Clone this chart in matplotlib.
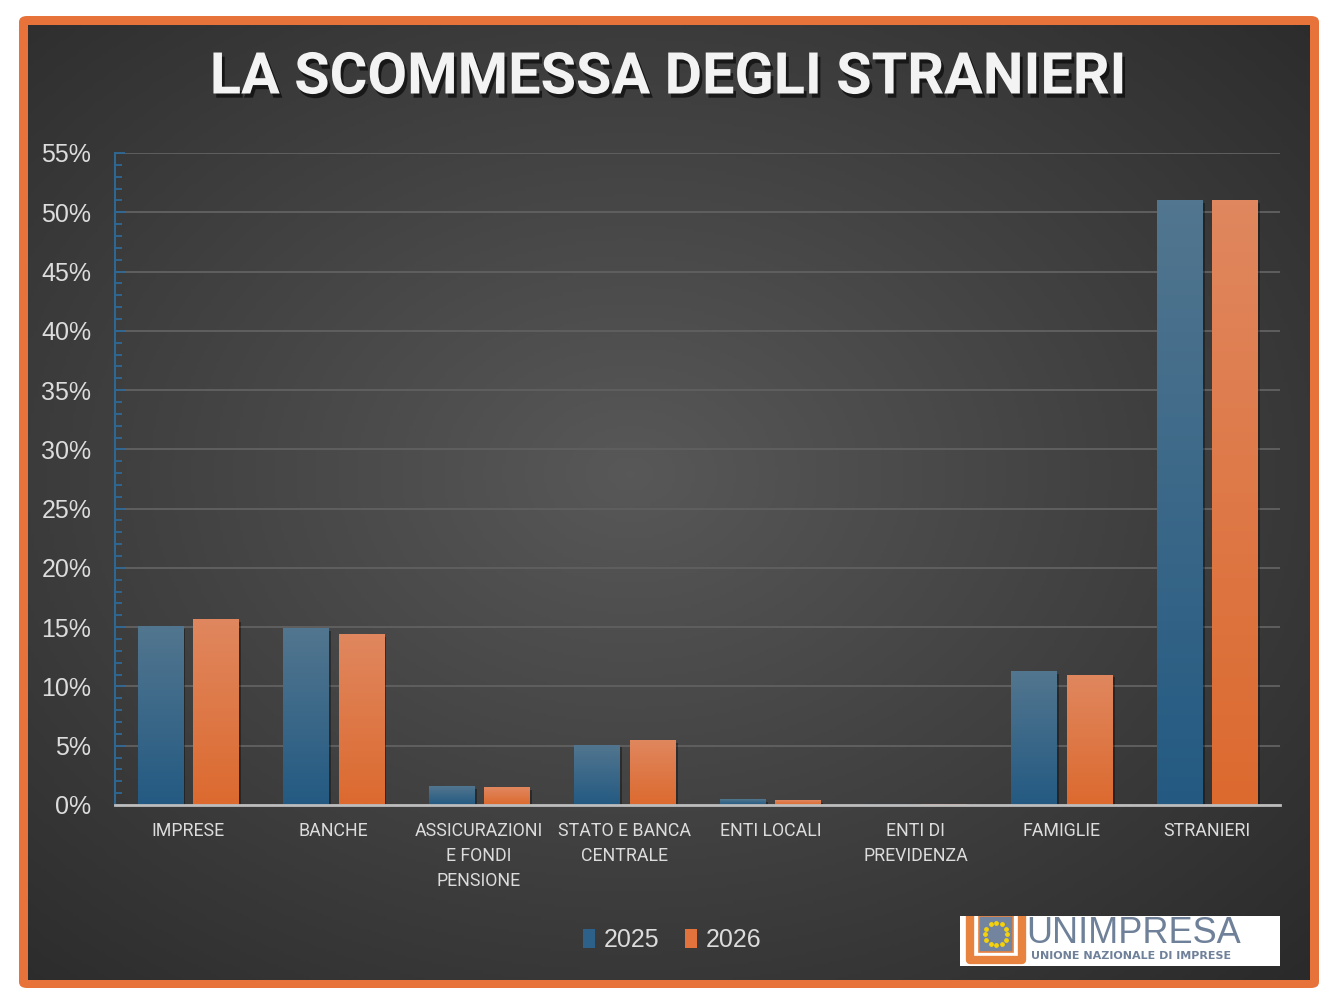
import numpy as np
import matplotlib
matplotlib.use('Agg')
import matplotlib.pyplot as plt
import matplotlib.patheffects as pe
from matplotlib.patches import Rectangle, FancyBboxPatch
from matplotlib.colors import LinearSegmentedColormap
from matplotlib.ticker import MultipleLocator, FuncFormatter

# data (percent)
categories = ['IMPRESE', 'BANCHE', 'ASSICURAZIONI\nE FONDI\nPENSIONE',
              'STATO E BANCA\nCENTRALE', 'ENTI LOCALI', 'ENTI DI\nPREVIDENZA',
              'FAMIGLIE', 'STRANIERI']
values_2025 = [15.1, 14.9, 1.6, 5.1, 0.5, 0.05, 11.3, 51.0]
values_2026 = [15.7, 14.4, 1.5, 5.5, 0.4, 0.05, 11.0, 51.0]
years = ['2025', '2026']

W, H = 1336, 1008
fig = plt.figure(figsize=(W / 100, H / 100), dpi=100, facecolor='white')

# orange frame + dark radial background
frame = FancyBboxPatch((19 / W, 1 - 988 / H), 1300 / W, 972 / H,
                       boxstyle='round,pad=0,rounding_size=0.006',
                       transform=fig.transFigure, fc='#e8733a', ec='none', zorder=-20)
fig.patches.append(frame)

bg = fig.add_axes([28 / W, 1 - 980 / H, 1282 / W, 955 / H], zorder=-10)
yy, xx = np.mgrid[0:1:300j, 0:1:400j]
r = np.sqrt(((xx - 0.47) / 0.75) ** 2 + ((yy - 0.47) / 0.75) ** 2)
bg_cmap = LinearSegmentedColormap.from_list('bg', ['#585858', '#2a2a2a'])
bg.imshow(np.clip(r, 0, 1), cmap=bg_cmap, vmin=0, vmax=1, aspect='auto')
bg.axis('off')

ax = fig.add_axes([115 / W, 1 - 805 / H, 1165 / W, 652 / H])
ax.set_facecolor('none')

x = np.arange(len(categories))
bw = 0.31
off = 0.19


def gradient_bars(xs, vals, c_top, c_bot, label):
    bars = ax.bar(xs, vals, bw, color=c_bot, label=label, zorder=3)
    cmap = LinearSegmentedColormap.from_list('g', [c_bot, c_top])
    grad = np.linspace(1, 0, 128).reshape(-1, 1)
    for b in bars:
        b.set_path_effects([pe.SimplePatchShadow(offset=(2, -2), shadow_rgbFace='black', alpha=0.35),
                            pe.Normal()])
        x0, w, h = b.get_x(), b.get_width(), b.get_height()
        im = ax.imshow(grad, cmap=cmap, vmin=0, vmax=1, aspect='auto',
                       extent=[x0, x0 + w, 0, h], zorder=3.1)
        im.set_clip_path(b)
    return bars


gradient_bars(x - off, values_2025, '#52768f', '#245a82', years[0])
gradient_bars(x + off, values_2026, '#e0875f', '#dc6a2f', years[1])

ax.set_xlim(-0.5, len(categories) - 0.5)
ax.set_ylim(0, 55)
ax.yaxis.set_major_locator(MultipleLocator(5))
ax.yaxis.set_minor_locator(MultipleLocator(1))
ax.yaxis.set_major_formatter(FuncFormatter(lambda v, p: f'{int(v)}%'))
ax.yaxis.grid(True, color='#5f5f5f', lw=1.4)
ax.set_axisbelow(True)

for s in ['top', 'right']:
    ax.spines[s].set_visible(False)
ax.spines['left'].set_color('#2d6996')
ax.spines['left'].set_linewidth(1.4)
ax.spines['bottom'].set_color('#bdbdbd')
ax.spines['bottom'].set_linewidth(2)
ax.spines['bottom'].set_zorder(4)

ax.tick_params(axis='y', which='major', direction='in', length=7, width=1.3,
               color='#2d6996', labelsize=18, labelcolor='#dcdcdc', pad=17)
ax.tick_params(axis='y', which='minor', direction='in', length=5, width=1.3, color='#2d6996')
for t in ax.get_yticklabels():
    t.set_family(['Liberation Sans', 'DejaVu Sans'])

ax.set_xticks(x)
ax.set_xticklabels(categories, family=['Roboto', 'DejaVu Sans'],
                   fontsize=12.8, color='#dcdcdc', linespacing=1.5)
ax.tick_params(axis='x', length=0, pad=12)

fig.text(0.5, 1 - 78 / H, 'LA SCOMMESSA DEGLI STRANIERI', ha='center', va='center',
         fontsize=41.5, fontweight='bold', family=['Roboto', 'DejaVu Sans'], color='#f3f3f3',
         path_effects=[pe.SimplePatchShadow(offset=(2, -3), shadow_rgbFace='black', alpha=0.6),
                       pe.Normal()])

handles = [Rectangle((0, 0), 1, 1, fc='#2d6189'), Rectangle((0, 0), 1, 1, fc='#e2733d')]
fig.legend(handles, years, loc='center', bbox_to_anchor=(0.503, 1 - 940 / H), ncol=2,
           frameon=False, labelcolor='#dcdcdc', handlelength=0.5,
           handleheight=0.8, handletextpad=0.35, columnspacing=1.0,
           prop={'family': ['Liberation Sans', 'DejaVu Sans'], 'size': 18})

# logo
lg = fig.add_axes([960 / W, 1 - 966 / H, 320 / W, 50 / H])
lg.set_xlim(0, 320)
lg.set_ylim(0, 50)
lg.set_facecolor('white')
for s in lg.spines.values():
    s.set_visible(False)
lg.set_xticks([])
lg.set_yticks([])
lg.plot([10, 10, 62, 62], [50, 6, 6, 50], color='#e8823f', lw=6, solid_joinstyle='round',
        solid_capstyle='butt')
lg.add_patch(Rectangle((19, 14), 34, 36, fc='#72849e', ec='#e8823f', lw=1.2))
ang = np.linspace(0, 2 * np.pi, 13)[:-1]
lg.scatter(36 + 11 * np.cos(ang), 32 + 11 * np.sin(ang), s=6, color='#f5d20a', zorder=5)
lg.text(66, 23, 'UNIMPRESA', ha='left', va='baseline', fontsize=26, color='#6f8099',
        family=['Liberation Sans', 'DejaVu Sans'])
lg.text(71, 10, 'UNIONE NAZIONALE DI IMPRESE', ha='left', va='center', fontsize=8,
        fontweight='bold', color='#6f8099', family=['DejaVu Sans'])

fig.savefig('out.png', dpi=100, facecolor='white')
